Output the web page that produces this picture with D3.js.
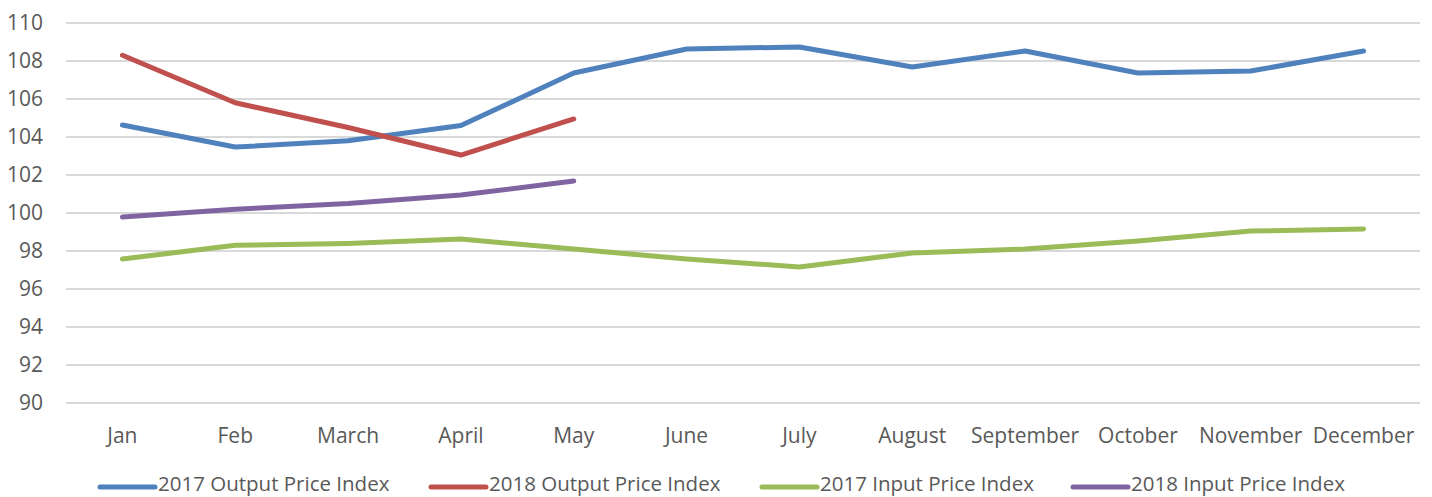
<!DOCTYPE html>
<html><head><meta charset="utf-8">
<script src="https://cdn.jsdelivr.net/npm/d3@7"></script>
<style>
html,body{margin:0;padding:0;background:#fff;overflow:hidden}
svg{display:block;font-family:"Liberation Sans Narrow","Open Sans",sans-serif}
</style></head><body>
<svg id="c" width="1432" height="497"></svg>
<script>
const months = ["Jan","Feb","March","April","May","June","July","August","September","October","November","December"];
const output2017 = [104.63,103.47,103.8,104.6,107.37,108.63,108.74,107.68,108.53,107.37,107.47,108.53];
const output2018 = [108.3,105.8,104.5,103.05,104.95];
const input2017 = [97.58,98.3,98.4,98.63,98.1,97.58,97.16,97.9,98.1,98.53,99.05,99.16];
const input2018 = [99.79,100.2,100.5,100.95,101.68];
const seriesNames = ["2017 Output Price Index","2018 Output Price Index","2017 Input Price Index","2018 Input Price Index"];
const yTicks = [90,92,94,96,98,100,102,104,106,108,110];

const colors = ["#4F81BD","#C0504D","#9BBB59","#8064A2"];
const seriesData = [output2017, output2018, input2017, input2018];

const svg = d3.select("#c");
const x = d3.scaleBand().domain(months).range([66,1420]);
const y = d3.scaleLinear().domain([90,110]).range([403,23]);

svg.append("g").selectAll("line").data(yTicks).join("line")
  .attr("x1",66).attr("x2",1420)
  .attr("y1",d=>y(d)).attr("y2",d=>y(d))
  .attr("stroke","#D9D9D9").attr("stroke-width",2);

svg.append("g").selectAll("text").data(yTicks).join("text")
  .attr("x",43).attr("y",d=>y(d)).attr("dy","0.35em")
  .attr("text-anchor","end").attr("font-size",21).attr("fill","#595959")
  .text(d=>d);

svg.append("g").selectAll("text").data(months).join("text")
  .attr("x",d=>x(d)+x.bandwidth()/2).attr("y",436).attr("dy","0.35em")
  .attr("text-anchor","middle").attr("font-size",21).attr("fill","#595959")
  .text(d=>d);

const line = d3.line().x((d,i)=>x(months[i])+x.bandwidth()/2).y(d=>y(d));
seriesData.forEach((s,k)=>{
  svg.append("path").datum(s).attr("d",line)
    .attr("fill","none").attr("stroke",colors[k]).attr("stroke-width",5)
    .attr("stroke-linecap","round").attr("stroke-linejoin","round");
});

const legX = [100,431,762,1073];
const lg = svg.append("g").selectAll("g").data(seriesNames).join("g")
  .attr("transform",(d,i)=>`translate(${legX[i]},484)`);
lg.append("line").attr("x1",0).attr("x2",55).attr("y1",3).attr("y2",3)
  .attr("stroke",(d,i)=>colors[i]).attr("stroke-width",5).attr("stroke-linecap","round");
lg.append("text").attr("x",58).attr("y",0).attr("dy","0.35em")
  .attr("font-size",20.5).attr("fill","#595959").text(d=>d);
</script></body></html>
